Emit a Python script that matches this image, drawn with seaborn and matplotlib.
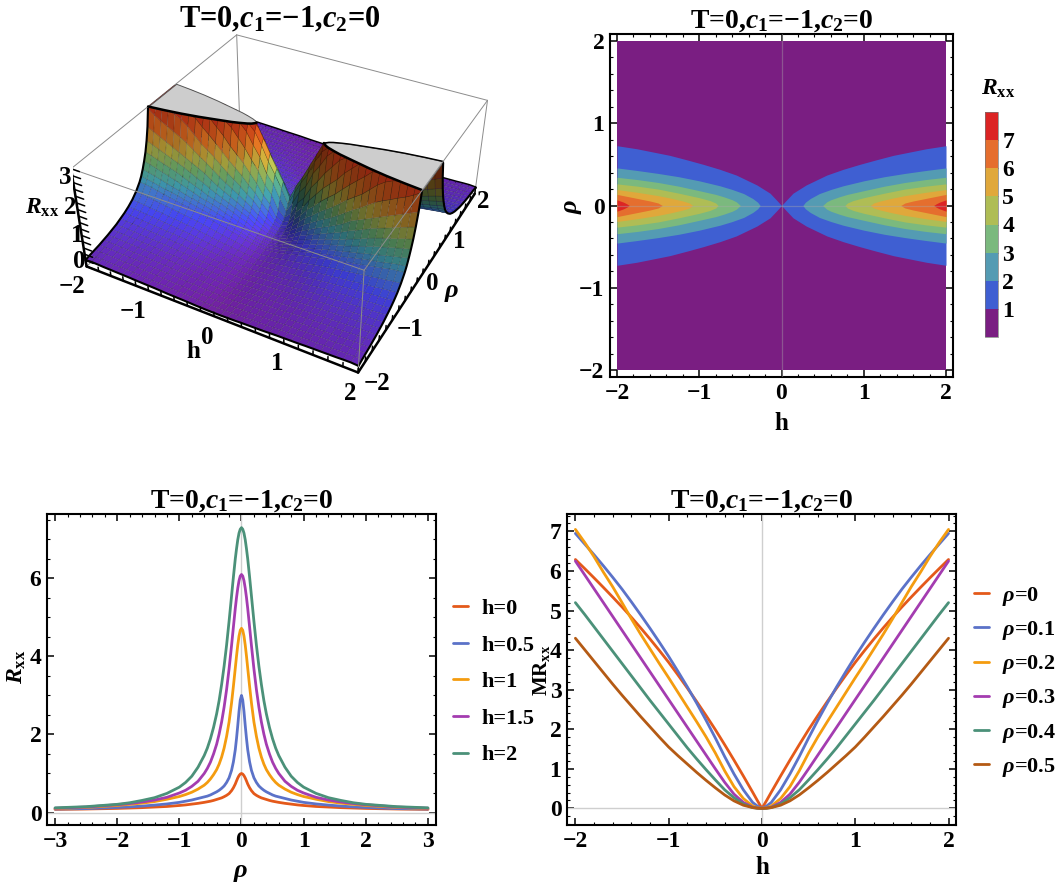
import numpy as np
import pandas as pd
import matplotlib
matplotlib.use("Agg")
import matplotlib.pyplot as plt
import seaborn as sns
from matplotlib.cm import ScalarMappable
from matplotlib.colors import BoundaryNorm, LinearSegmentedColormap, ListedColormap
from matplotlib.ticker import MultipleLocator
from mpl_toolkits.mplot3d.art3d import Poly3DCollection

W, H = 1060, 883

# Rxx on the quadrant h>=0, rho>=0 (rows h, columns rho)
h_grid = np.round(np.arange(0, 2.01, 0.1), 1)
rho_grid = np.round(np.arange(0, 2.01, 0.1), 1)
rxx_surface = np.array([
    [1.00, .70, .47, .39, .33, .29, .26, .24, .21, .20, .18, .17, .16, .15, .14, .13, .125, .12, .115, .11, .11],
    [1.45, 1.05, .58, .45, .37, .32, .29, .26, .24, .22, .20, .185, .17, .16, .15, .14, .135, .125, .12, .115, .11],
    [1.80, 1.45, .93, .62, .47, .38, .33, .29, .26, .24, .22, .205, .19, .175, .165, .155, .145, .135, .13, .12, .115],
    [2.20, 1.70, 1.15, .82, .60, .47, .39, .34, .30, .27, .24, .22, .205, .19, .175, .165, .155, .145, .135, .13, .12],
    [2.60, 2.15, 1.45, 1.03, .75, .58, .47, .39, .34, .30, .26, .24, .22, .205, .19, .175, .165, .155, .145, .135, .13],
    [3.00, 2.45, 1.70, 1.17, .85, .65, .53, .44, .37, .32, .28, .25, .23, .215, .20, .185, .175, .165, .155, .145, .135],
    [3.40, 2.80, 1.95, 1.35, .97, .74, .59, .49, .41, .35, .31, .28, .25, .23, .21, .195, .18, .17, .16, .15, .14],
    [3.75, 3.05, 2.15, 1.50, 1.07, .82, .65, .53, .45, .38, .34, .30, .27, .245, .225, .205, .19, .18, .165, .155, .145],
    [4.10, 3.35, 2.35, 1.65, 1.17, .90, .71, .58, .49, .42, .37, .33, .295, .265, .24, .22, .205, .19, .175, .165, .155],
    [4.40, 3.60, 2.60, 1.82, 1.28, .97, .77, .63, .53, .45, .40, .35, .31, .28, .255, .235, .215, .20, .185, .175, .165],
    [4.70, 3.85, 2.80, 2.00, 1.40, 1.03, .82, .67, .57, .49, .43, .38, .34, .30, .27, .25, .23, .21, .195, .18, .17],
    [5.05, 4.10, 3.05, 2.15, 1.55, 1.12, .87, .71, .60, .51, .45, .40, .35, .31, .28, .26, .24, .22, .20, .19, .175],
    [5.35, 4.35, 3.25, 2.30, 1.65, 1.20, .93, .75, .63, .54, .47, .42, .37, .33, .30, .27, .25, .23, .21, .195, .18],
    [5.60, 4.55, 3.45, 2.50, 1.75, 1.28, .98, .79, .66, .56, .49, .43, .38, .34, .31, .28, .26, .24, .22, .205, .19],
    [5.85, 4.75, 3.65, 2.70, 1.85, 1.37, 1.04, .83, .69, .58, .51, .45, .40, .35, .32, .29, .27, .25, .23, .21, .195],
    [6.10, 5.00, 3.85, 2.85, 1.95, 1.45, 1.09, .87, .72, .61, .53, .46, .41, .36, .33, .30, .27, .25, .23, .215, .20],
    [6.35, 5.20, 4.00, 2.95, 2.05, 1.52, 1.14, .91, .75, .63, .55, .48, .42, .37, .34, .31, .28, .26, .24, .22, .205],
    [6.60, 5.45, 4.20, 3.08, 2.15, 1.58, 1.20, .95, .78, .65, .57, .50, .44, .39, .35, .32, .29, .27, .25, .23, .21],
    [6.85, 5.65, 4.40, 3.20, 2.25, 1.65, 1.25, 1.00, .81, .68, .59, .51, .45, .40, .36, .33, .30, .28, .26, .24, .22],
    [7.10, 5.85, 4.55, 3.35, 2.35, 1.72, 1.30, 1.03, .84, .70, .60, .52, .46, .41, .37, .34, .31, .28, .26, .24, .225],
    [7.30, 6.05, 4.70, 3.50, 2.45, 1.78, 1.35, 1.05, .86, .72, .62, .54, .48, .42, .38, .34, .31, .28, .26, .24, .21],
])
# extra columns on the steep walls
rho_wall = np.array([.05, .15, .25, .35, .45, .55, .65])
rxx_wall = np.array([
    [.88, .56, .43, .36, .31, .275, .25],
    [1.3, .76, .51, .41, .345, .305, .275],
    [1.68, 1.17, .76, .54, .42, .355, .31],
    [2.02, 1.4, .97, .7, .53, .43, .365],
    [2.45, 1.78, 1.22, .87, .66, .52, .43],
    [2.8, 2.05, 1.4, 1.0, .74, .59, .48],
    [3.2, 2.35, 1.62, 1.14, .84, .66, .54],
    [3.5, 2.6, 1.8, 1.26, .93, .72, .59],
    [3.85, 2.85, 1.97, 1.38, 1.02, .8, .64],
    [4.1, 3.1, 2.18, 1.52, 1.11, .86, .69],
    [4.35, 3.3, 2.38, 1.67, 1.2, .92, .74],
    [4.65, 3.55, 2.57, 1.82, 1.31, .98, .78],
    [4.9, 3.8, 2.75, 1.95, 1.4, 1.05, .83],
    [5.15, 4.0, 2.95, 2.1, 1.5, 1.12, .88],
    [5.35, 4.2, 3.15, 2.25, 1.6, 1.19, .93],
    [5.6, 4.4, 3.33, 2.37, 1.68, 1.26, .97],
    [5.8, 4.6, 3.45, 2.47, 1.76, 1.32, 1.01],
    [6.05, 4.8, 3.6, 2.58, 1.84, 1.38, 1.06],
    [6.3, 5.0, 3.75, 2.68, 1.92, 1.44, 1.11],
    [6.5, 5.2, 3.9, 2.8, 2.0, 1.5, 1.15],
    [6.7, 5.35, 4.05, 2.95, 2.08, 1.55, 1.18],
])

# contour boundaries: half width in rho at h for each level of the density plot
level_1_h = [0, .05, .14, .3, .55, .75, .95, 1.15, 1.36, 1.56, 1.76, 2]
level_1_rho = [0, .055, .15, .25, .37, .44, .50, .555, .61, .65, .69, .727]
level_2_h = [.26, .29, .35, .46, .6, .75, 1, 1.25, 1.5, 1.75, 2]
level_2_rho = [0, .04, .085, .145, .195, .24, .3, .35, .39, .425, .457]
level_3_h = [.5, .55, .6, .7, .8, 1, 1.25, 1.5, 1.75, 2]
level_3_rho = [0, .045, .07, .105, .135, .18, .235, .28, .315, .343]
level_4_h = [.77, .8, .87, 1, 1.25, 1.5, 1.75, 2]
level_4_rho = [0, .03, .06, .095, .15, .2, .235, .263]
level_5_h = [1.08, 1.12, 1.2, 1.35, 1.5, 1.75, 2]
level_5_rho = [0, .03, .055, .09, .12, .16, .194]
level_6_h = [1.45, 1.5, 1.6, 1.75, 1.9, 2]
level_6_rho = [0, .03, .055, .085, .115, .135]
level_7_h = [1.85, 1.88, 1.92, 2]
level_7_rho = [0, .02, .04, .069]
level_values = [0, 1, 2, 3, 4, 5, 6, 7, 8]
level_colors = ["#7A1E82", "#3F5FD2", "#549BB3", "#7BB97E", "#AFBD55", "#E0A83B", "#E56E2E", "#DC2424"]

# Rxx against rho, right half (curves are even in rho)
rho_line = [0, .02, .04, .06, .08, .1, .13, .16, .2, .24, .28, .32, .36, .4, .45, .5, .55, .6, .7, .8, .9, 1,
            1.2, 1.4, 1.6, 1.8, 2, 2.5, 3]
rxx_h0 = [1.0, .985, .945, .885, .81, .73, .635, .56, .485, .44, .405, .375, .355, .335, .31, .29, .275, .26, .235, .215, .195, .18,
          .155, .14, .125, .115, .105, .09, .08]
rxx_h05 = [3.0, 2.88, 2.59, 2.23, 1.90, 1.61, 1.30, 1.08, .89, .77, .68, .62, .57, .53, .49, .45, .42, .40, .36, .32, .29, .26,
           .22, .19, .165, .145, .13, .10, .09]
rxx_h1 = [4.72, 4.67, 4.52, 4.29, 4.01, 3.70, 3.24, 2.81, 2.32, 1.95, 1.65, 1.42, 1.24, 1.10, .97, .86, .77, .70, .60, .52, .46, .41,
          .34, .28, .24, .21, .18, .13, .10]
rxx_h15 = [6.1, 6.06, 5.94, 5.75, 5.51, 5.23, 4.76, 4.28, 3.68, 3.15, 2.70, 2.32, 2.01, 1.75, 1.50, 1.29, 1.13, 1.0, .80, .67, .57, .50,
           .39, .32, .27, .23, .20, .14, .11]
rxx_h2 = [7.3, 7.26, 7.16, 6.99, 6.76, 6.50, 6.04, 5.55, 4.90, 4.29, 3.75, 3.28, 2.87, 2.53, 2.18, 1.89, 1.65, 1.46, 1.16, .93, .77, .65,
          .49, .38, .31, .25, .21, .15, .12]
h_labels = ["h=0", "h=0.5", "h=1", "h=1.5", "h=2"]
h_colors = ["#E4591A", "#5B72C8", "#F49C0F", "#A43CB0", "#4B9179"]

# MRxx against h, right half (curves are even in h)
h_line = [0, .05, .1, .2, .3, .4, .5, .6, .7, .8, .9, 1, 1.1, 1.2, 1.3, 1.4, 1.5, 1.6, 1.7, 1.8, 1.9, 2]
mr_r0 = [0, .2, .41, .82, 1.22, 1.61, 1.99, 2.35, 2.70, 3.04, 3.37, 3.69, 3.99, 4.28, 4.56, 4.83, 5.09, 5.34, 5.585, 5.825, 6.06, 6.29]
mr_r1 = [0, .06, .15, .47, .87, 1.31, 1.78, 2.23, 2.66, 3.07, 3.46, 3.84, 4.20, 4.55, 4.89, 5.22, 5.54, 5.84, 6.13, 6.41, 6.68, 6.95]
mr_r2 = [0, .02, .06, .25, .55, .95, 1.40, 1.81, 2.19, 2.56, 2.93, 3.30, 3.66, 4.03, 4.40, 4.79, 5.20, 5.60, 5.97, 6.36, 6.72, 7.05]
mr_r3 = [0, .01, .03, .15, .36, .66, 1.00, 1.35, 1.70, 2.05, 2.40, 2.75, 3.10, 3.45, 3.80, 4.15, 4.50, 4.85, 5.20, 5.55, 5.90, 6.25]
mr_r4 = [0, .005, .02, .11, .27, .47, .72, .98, 1.25, 1.53, 1.83, 2.13, 2.43, 2.73, 3.04, 3.35, 3.66, 3.97, 4.28, 4.59, 4.90, 5.20]
mr_r5 = [0, .005, .02, .08, .19, .34, .52, .71, .91, 1.12, 1.33, 1.55, 1.80, 2.06, 2.32, 2.59, 2.86, 3.14, 3.43, 3.72, 4.01, 4.30]
rho_labels = [r"$\rho$=0", r"$\rho$=0.1", r"$\rho$=0.2", r"$\rho$=0.3", r"$\rho$=0.4", r"$\rho$=0.5"]
rho_colors = ["#E4591A", "#5B72C8", "#F49C0F", "#A43CB0", "#4B9179", "#B45A14"]

surface_colors = ["#7A1E88", "#6A22A8", "#4040E0", "#3F9FB0", "#6DB36F", "#C8B840", "#E87020", "#B01E12"]
surface_stops = [0, .05, .2, .38, .52, .66, .82, 1]

TITLE = "T=0,$c_1$=\u22121,$c_2$=0"

sns.set_theme(style="ticks")
plt.rcParams["font.family"] = ["Liberation Serif", "DejaVu Sans"]
plt.rcParams["font.weight"] = "bold"
plt.rcParams["text.color"] = "black"
plt.rcParams["mathtext.fontset"] = "custom"
plt.rcParams["mathtext.rm"] = "Liberation Serif:bold"
plt.rcParams["mathtext.it"] = "Liberation Serif:italic:bold"
plt.rcParams["mathtext.bf"] = "Liberation Serif:bold"
plt.rcParams["axes.unicode_minus"] = True

fig = plt.figure(figsize=(W / 100, H / 100), dpi=100)


def frame(left, top, right, bottom):
    ax = fig.add_axes([left / W, 1 - bottom / H, (right - left) / W, (bottom - top) / H])
    for side in ax.spines.values():
        side.set_linewidth(1.5)
        side.set_color("black")
    ax.tick_params(which="major", direction="in", length=5, width=1.1, top=True, right=True,
                   labelsize=17, pad=4, color="black", labelcolor="black")
    ax.tick_params(which="minor", direction="in", length=2.5, width=.8, top=True, right=True, color="black")
    ax.set_xlabel("")
    ax.set_ylabel("")
    return ax


def label(x, y, text, size=18, **kw):
    fig.text(x / W, 1 - y / H, text, ha="center", va="center", fontsize=size, color="black", **kw)


def soften(values):
    # colour only: evens out the steps between neighbouring cells, the geometry keeps the table
    kernel = [.25, .5, .25]
    for axis in (0, 1):
        values = np.apply_along_axis(lambda s: np.convolve(np.pad(s, 1, mode="edge"), kernel, "valid"), axis, values)
    return values


# 3D surface
ax3 = fig.add_axes([73 / W, 1 - 399 / H, 422 / W, 422 / H], projection="3d", computed_zorder=False)
ax3.patch.set_alpha(0)
ax3.set_axis_off()
ax3.set_box_aspect((1, 1, .4))
ax3.set_proj_type("persp", focal_length=.4384)
ax3.view_init(elev=36.2, azim=-61.6)
ax3.set_xlim(-2, 2, view_margin=0)
ax3.set_ylim(-2, 2, view_margin=0)
ax3.set_zlim(0, 3, view_margin=0)

rho_cols = np.concatenate([rho_grid, rho_wall])
order = np.argsort(rho_cols)
rho_cols = rho_cols[order]
quadrant = np.hstack([rxx_surface, rxx_wall])[:, order]

h_all = np.concatenate([-h_grid[:0:-1], h_grid])
rho_all = np.concatenate([-rho_cols[:0:-1], rho_cols])
full = np.hstack([quadrant[:, :0:-1], quadrant])
full = np.vstack([full[:0:-1], full])
z = np.minimum(full, 3)
hh, rr = np.meshgrid(h_all, rho_all, indexing="ij")

dzdx = np.gradient(.4 * z / 3, h_all / 4, axis=0)
dzdy = np.gradient(.4 * z / 3, rho_all / 4, axis=1)
norm_len = np.sqrt(dzdx ** 2 + dzdy ** 2 + 1)
light = np.array([.65, -.15, .65])
dot = (-dzdx * light[0] - dzdy * light[1] + light[2]) / norm_len
shade = soften(np.clip(.4 + .95 * dot, .38, 1.2))
z_cell = z.copy()
z_cell[:-1, :-1] = (z[:-1, :-1] + z[1:, :-1] + z[:-1, 1:] + z[1:, 1:]) / 4
shade_cell = shade.copy()
shade_cell[:-1, :-1] = (shade[:-1, :-1] + shade[1:, :-1] + shade[:-1, 1:] + shade[1:, 1:]) / 4
surf_cmap = LinearSegmentedColormap.from_list("rainbow3d", list(zip(surface_stops, surface_colors)))
face = surf_cmap(soften(z_cell) / 3)
face[..., :3] = np.clip(face[..., :3] * shade_cell[..., None], 0, 1)

# back of the box
gray = "#8c8c8c"
for xs, ys, zs in [([-2, -2], [-2, 2], [3, 3]), ([-2, 2], [2, 2], [3, 3]), ([-2, -2], [2, 2], [0, 3]),
                   ([2, 2], [2, 2], [0, 3]), ([-2, 2], [2, 2], [0, 0]), ([-2, -2], [-2, 2], [0, 0])]:
    ax3.plot(xs, ys, zs, color=gray, lw=.7, zorder=1)
ax3.plot(h_all, np.full_like(h_all, 2), z[:, -1], color="black", lw=2, zorder=1)

surf = ax3.plot_surface(hh, rr, z, facecolors=face, rstride=1, cstride=1, shade=False, zorder=2)
surf.set_edgecolor((0, 0, 0, .28))
surf.set_linewidth(.35)

# clipped tops of the two ridges
cap_h = np.array(level_3_h)
cap_rho = np.array(level_3_rho)
for sign in (-1, 1):
    cap_x = np.concatenate([sign * cap_h, sign * cap_h[::-1]])
    cap_y = np.concatenate([-cap_rho, cap_rho[::-1]])
    cap = Poly3DCollection([list(zip(cap_x, cap_y, np.full_like(cap_x, 3.0)))], facecolor="#cdcdcd",
                           edgecolor="#555555", linewidth=.7, zorder=3)
    ax3.add_collection3d(cap)
    ax3.plot(sign * cap_h, -cap_rho, np.full_like(cap_h, 3.0), color="black", lw=1.8, zorder=4)
ax3.plot(cap_h, cap_rho, np.full_like(cap_h, 3.0), color="black", lw=1, zorder=4)

# surface outline
low_part = rho_all <= -.35
high_part = rho_all >= .35
ax3.plot(np.full(low_part.sum(), -2.0), rho_all[low_part], z[0, low_part], color="black", lw=1.5, zorder=4)
ax3.plot(np.full(low_part.sum(), 2.0), rho_all[low_part], z[-1, low_part], color="black", lw=1.5, zorder=4)
ax3.plot(np.full(high_part.sum(), 2.0), rho_all[high_part], z[-1, high_part], color="black", lw=1.5, zorder=4)
ax3.plot(h_all, np.full_like(h_all, -2), z[:, 0], color="black", lw=1.5, zorder=4)

# front of the box, axes and their ticks
for xs, ys, zs in [([-2, 2], [-2, -2], [3, 3]), ([2, 2], [-2, -2], [0, 3]), ([2, 2], [-2, 2], [3, 3])]:
    ax3.plot(xs, ys, zs, color=gray, lw=.7, zorder=5)
ax3.plot([-2, 2], [-2, -2], [0, 0], color="black", lw=1.8, zorder=5)
ax3.plot([2, 2], [-2, 2], [0, 0], color="black", lw=1.8, zorder=5)
ax3.plot([-2, -2], [-2, -2], [0, 3], color="black", lw=1.8, zorder=5)
for t in np.arange(-2, 2.01, .2):
    ax3.plot([t, t], [-2, -2], [0, .13], color="black", lw=1.1, zorder=5)
    ax3.plot([2, 2], [t, t], [0, .15], color="black", lw=1.1, zorder=5)
for t in np.arange(0, 3.01, .2):
    ax3.plot([-2, -1.87], [-2, -2], [t, t], color="black", lw=1.1, zorder=5)

label(280, 20, TITLE, size=22)
for x, y, s in [(72, 287, "\u22122"), (133, 312, "\u22121"), (207, 337, "0"), (277, 363, "1"), (350, 393, "2"),
                (377, 383, "\u22122"), (410, 329, "\u22121"), (432, 283, "0"), (459, 242, "1"), (483, 202, "2"),
                (79, 262, "0"), (77, 235, "1"), (70, 207, "2"), (65, 178, "3")]:
    label(x, y, s)
label(193, 352, "h")
label(452, 293, r"$\rho$", size=19)
label(42, 208, r"$R_{\mathrm{xx}}$", size=17)

# density plot
ax2 = frame(610, 34, 953, 377)
ax2.fill_between([-2, 2], [-2, -2], [2, 2], color=level_colors[0], lw=0, zorder=1)
bounds = [(level_1_h, level_1_rho), (level_2_h, level_2_rho), (level_3_h, level_3_rho), (level_4_h, level_4_rho),
          (level_5_h, level_5_rho), (level_6_h, level_6_rho), (level_7_h, level_7_rho)]
for n, (bh, brho) in enumerate(bounds):
    bh = np.array(bh)
    brho = np.array(brho)
    for sign in (-1, 1):
        ax2.fill_between(sign * bh, -brho, brho, color=level_colors[n + 1], lw=0, zorder=2 + n)
ax2.axvline(0, color="#aaaaaa", alpha=.4, lw=.9, zorder=12)
ax2.axhline(0, color="#aaaaaa", alpha=.4, lw=.9, ls="-", zorder=12, xmin=.02, xmax=.98)
ax2.set_xlim(-2.085, 2.085)
ax2.set_ylim(-2.085, 2.085)
ax2.set_xticks([-2, -1, 0, 1, 2])
ax2.set_yticks([-2, -1, 0, 1, 2])
ax2.xaxis.set_minor_locator(MultipleLocator(.2))
ax2.yaxis.set_minor_locator(MultipleLocator(.2))
ax2.set_title(TITLE, fontsize=20, fontweight="bold", pad=3, color="black")
label(781, 423, "h")
label(572, 206, r"$\rho$", size=19, rotation=90)

cax = fig.add_axes([985 / W, 1 - 337 / H, 13 / W, 225 / H])
cbar = fig.colorbar(ScalarMappable(norm=BoundaryNorm(level_values, 8), cmap=ListedColormap(level_colors)),
                    cax=cax, ticks=[1, 2, 3, 4, 5, 6, 7])
cbar.ax.tick_params(labelsize=17, length=3, width=.6, direction="in", pad=3, color="#555555", labelcolor="black")
cbar.outline.set_linewidth(.5)
cbar.outline.set_edgecolor("#777777")
cbar.ax.minorticks_off()
label(998, 89, r"$R_{\mathrm{xx}}$", size=17)

# Rxx against rho
rho_full = np.concatenate([-np.array(rho_line)[:0:-1], rho_line])
rows = []
for name, values in zip(h_labels, [rxx_h0, rxx_h05, rxx_h1, rxx_h15, rxx_h2]):
    rows.append(pd.DataFrame({"rho": rho_full, "Rxx": np.concatenate([np.array(values)[:0:-1], values]), "curve": name}))
df_rho = pd.concat(rows, ignore_index=True)

ax4 = frame(47, 514, 436, 825)
ax4.axvline(0, color="#cfcfcf", lw=1, zorder=1)
ax4.axhline(0, color="#cfcfcf", lw=1, zorder=1)
sns.lineplot(data=df_rho, x="rho", y="Rxx", hue="curve", hue_order=h_labels, palette=h_colors, ax=ax4,
             estimator=None, errorbar=None, linewidth=2, zorder=3)
ax4.set_xlim(-3.13, 3.13)
ax4.set_ylim(-.32, 7.65)
ax4.set_xticks([-3, -2, -1, 0, 1, 2, 3])
ax4.set_yticks([0, 2, 4, 6])
ax4.xaxis.set_minor_locator(MultipleLocator(.2))
ax4.yaxis.set_minor_locator(MultipleLocator(.5))
ax4.set_xlabel("")
ax4.set_ylabel("")
ax4.set_title(TITLE, fontsize=20, fontweight="bold", pad=3, color="black")
sns.move_legend(ax4, "center left", bbox_to_anchor=(1.044, .46), title=None, frameon=False, fontsize=16,
                labelspacing=.72, handlelength=.68, handletextpad=.6, borderpad=0, borderaxespad=0)
label(241, 872, r"$\rho$", size=19)
label(17, 667, r"$R_{\mathrm{xx}}$", size=17, rotation=90)

# MRxx against h
h_full = np.concatenate([-np.array(h_line)[:0:-1], h_line])
rows = []
for name, values in zip(rho_labels, [mr_r0, mr_r1, mr_r2, mr_r3, mr_r4, mr_r5]):
    rows.append(pd.DataFrame({"h": h_full, "MR": np.concatenate([np.array(values)[:0:-1], values]), "curve": name}))
df_h = pd.concat(rows, ignore_index=True)

ax5 = frame(567, 514, 956, 825)
ax5.axvline(0, color="#cfcfcf", lw=1, zorder=1)
ax5.axhline(0, color="#cfcfcf", lw=1, zorder=1)
sns.lineplot(data=df_h, x="h", y="MR", hue="curve", hue_order=rho_labels, palette=rho_colors, ax=ax5,
             estimator=None, errorbar=None, linewidth=2, zorder=3)
ax5.set_xlim(-2.09, 2.08)
ax5.set_ylim(-.42, 7.44)
ax5.set_xticks([-2, -1, 0, 1, 2])
ax5.set_yticks([0, 1, 2, 3, 4, 5, 6, 7])
ax5.xaxis.set_minor_locator(MultipleLocator(.2))
ax5.yaxis.set_minor_locator(MultipleLocator(.2))
ax5.set_xlabel("")
ax5.set_ylabel("")
ax5.set_title(TITLE, fontsize=20, fontweight="bold", pad=3, color="black")
sns.move_legend(ax5, "center left", bbox_to_anchor=(1.045, .46), title=None, frameon=False, fontsize=16,
                labelspacing=.5, handlelength=.68, handletextpad=.6, borderpad=0, borderaxespad=0)
label(762, 868, "h")
label(541, 670, r"MR$_{\mathrm{xx}}$", size=15, rotation=90)

fig.savefig("out.png", dpi=100)
